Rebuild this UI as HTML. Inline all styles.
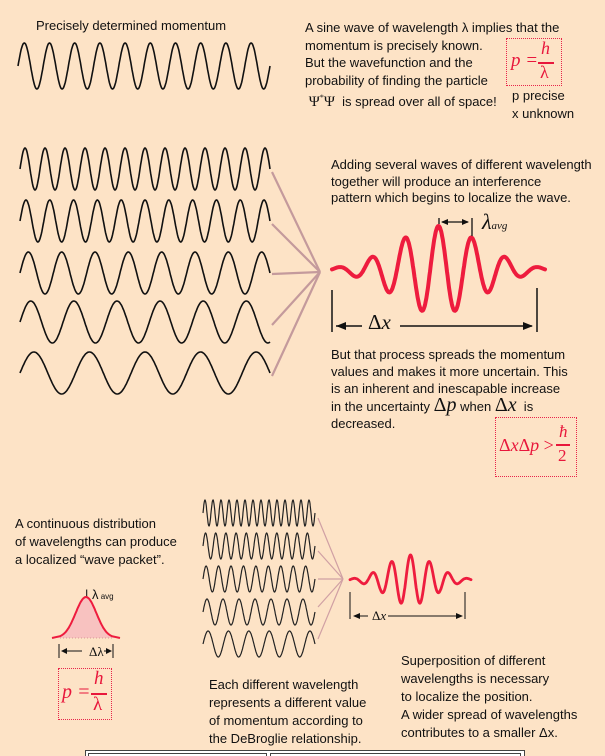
<!DOCTYPE html>
<html><head><meta charset="utf-8"><style>
body{margin:0;background:#fde3c6;}
#root{position:relative;width:605px;height:756px;overflow:hidden;background:#fde3c6;font-family:"Liberation Sans","DejaVu Sans",sans-serif;color:#111;}
.t{position:absolute;font-size:13px;line-height:17px;white-space:nowrap;}
.box{position:absolute;border:1.5px dotted #e8254a;}
.red{color:#e8173c;font-family:"Liberation Serif",serif;font-style:italic;}
svg{position:absolute;left:0;top:0;}
</style></head><body>
<div id="root">
<div class="t" style="left:36px;top:17px">Precisely determined momentum</div>
<div class="t" style="left:305px;top:19px;line-height:17.5px">A sine wave of wavelength λ implies that the<br>momentum is precisely known.<br>But the wavefunction and the<br>probability of finding the particle<br><span style="font-family:'Liberation Serif',serif;font-size:15px">&nbsp;Ψ<sup style="font-size:8px">*</sup>Ψ</span> &nbsp;is spread over all of space!</div>
<div class="box" style="left:506px;top:38px;width:54px;height:46px"></div>
<div class="t red" style="left:511px;top:52px;font-size:19px">p =</div>
<div class="t red" style="left:541px;top:40px;font-size:18px">h</div>
<div style="position:absolute;left:538px;top:62px;width:16px;height:1.5px;background:#e8173c"></div>
<div class="t red" style="left:540px;top:64px;font-size:18px;font-style:normal">λ</div>
<div class="t" style="left:512px;top:87px;line-height:17.5px">p precise<br>x unknown</div>

<div class="t" style="left:331px;top:157px;line-height:16.5px">Adding several waves of different wavelength<br>together will produce an interference<br>pattern which begins to localize the wave.</div>
<div class="t" style="left:482px;top:213px;font-family:'Liberation Serif',serif;font-style:italic;font-size:22px">λ<span style="font-size:11px">avg</span></div>
<div class="t" style="left:368px;top:314px;font-family:'Liberation Serif',serif;font-size:21px">Δ<i>x</i></div>
<div class="t" style="left:331px;top:346px;line-height:17px">But that process spreads the momentum<br>values and makes it more uncertain. This<br>is an inherent and inescapable increase<br>in the uncertainty <span style="font-family:'Liberation Serif',serif;font-size:20px">Δ<i>p</i></span> when <span style="font-family:'Liberation Serif',serif;font-size:20px">Δ<i>x</i></span> &nbsp;is<br>decreased.</div>
<div class="box" style="left:495px;top:417px;width:80px;height:58px"></div>
<div class="t red" style="left:499px;top:437px;font-size:18px;font-style:normal">Δ<i>x</i>Δ<i>p</i> &gt;</div>
<div class="t red" style="left:559px;top:423px;font-size:17px">ħ</div>
<div style="position:absolute;left:556px;top:444px;width:14px;height:1.5px;background:#e8173c"></div>
<div class="t red" style="left:558px;top:447px;font-size:17px;font-style:normal">2</div>

<div class="t" style="left:15px;top:515px;line-height:18px">A continuous distribution<br>of wavelengths can produce<br>a localized “wave packet”.</div>
<div class="t" style="left:85px;top:586px;font-size:13px">| λ<span style="font-size:8px"> avg</span></div>
<div class="t" style="left:89px;top:643px;font-family:'Liberation Serif',serif;font-size:13px">Δλ</div>
<div class="box" style="left:58px;top:668px;width:52px;height:50px"></div>
<div class="t red" style="left:62px;top:684px;font-size:20px">p =</div>
<div class="t red" style="left:94px;top:670px;font-size:19px">h</div>
<div style="position:absolute;left:91px;top:693px;width:16px;height:1.5px;background:#e8173c"></div>
<div class="t red" style="left:93px;top:696px;font-size:19px;font-style:normal">λ</div>
<div class="t" style="left:209px;top:676px;line-height:18px">Each different wavelength<br>represents a different value<br>of momentum according to<br>the DeBroglie relationship.</div>
<div class="t" style="left:401px;top:652px;line-height:18px">Superposition of different<br>wavelengths is necessary<br>to localize the position.<br>A wider spread of wavelengths<br>contributes to a smaller Δx.</div>
<div class="t" style="left:372px;top:607px;font-family:'Liberation Serif',serif;font-size:13px">Δ<i>x</i></div>

<svg id="svg" width="605" height="756"></svg>
</div>
<script>
const topCycles=[10];
const midCycles=[12.5,10.5,7.5,5.8,4.5];
const botCycles=[14,11,9,7,5.5];
const packetPeaks=[ -3,-2,-1,0,1,2,3];
const NS='http://www.w3.org/2000/svg';
const svg=document.getElementById('svg');
function el(t,a){const e=document.createElementNS(NS,t);for(const k in a)e.setAttribute(k,a[k]);svg.appendChild(e);return e;}
function wave(x0,x1,cy,amp,cyc,col,w){let d='';for(let i=0;i<=400;i++){const x=x0+(x1-x0)*i/400;const y=cy-amp*Math.sin(2*Math.PI*cyc*i/400);d+=(i?'L':'M')+x.toFixed(1)+' '+y.toFixed(1);}
const p=el('path',{d:d,fill:'none',stroke:col,'stroke-width':w});return p;}
function packet(x0,x1,cy,amp,cyc,sig,w){let d='';for(let i=0;i<=400;i++){const u=i/400-0.5;const x=x0+(x1-x0)*i/400;const env=Math.exp(-(u*u)/(2*sig*sig));const y=cy+amp*env*Math.sin(2*Math.PI*cyc*u+Math.PI/2)*-1;d+=(i?'L':'M')+x.toFixed(1)+' '+y.toFixed(1);}
return el('path',{d:d,fill:'none',stroke:'#ee1c3e','stroke-width':w,'stroke-linecap':'round'});}
let p=wave(18,270,66,23,topCycles[0],'#111',1.6);
midCycles.forEach((c,i)=>{const cy=[169,221,273,322,373][i];const q=wave(20,270,cy,21,c,'#111',1.6);
const l=el('line',{x1:272,y1:cy+3-(i==2?2:0),x2:320,y2:272,stroke:'#c49a9c','stroke-width':2.2});});
let pk=packet(332,545,270,44,packetPeaks.length-0.6,0.2,4);
el('line',{x1:332,y1:290,x2:332,y2:332,stroke:'#111','stroke-width':1.5});
el('line',{x1:537,y1:288,x2:537,y2:332,stroke:'#111','stroke-width':1.5});
el('line',{x1:336,y1:326,x2:362,y2:326,stroke:'#111','stroke-width':1.5});
el('path',{d:'M336 326 L346 322 L346 330Z',fill:'#111'});
el('line',{x1:400,y1:326,x2:532,y2:326,stroke:'#111','stroke-width':1.5});
el('path',{d:'M533 326 L523 322 L523 330Z',fill:'#111'});
el('line',{x1:439,y1:218,x2:439,y2:224,stroke:'#111','stroke-width':1.3});
el('line',{x1:472,y1:218,x2:472,y2:236,stroke:'#111','stroke-width':1.3});
el('line',{x1:442,y1:222,x2:468,y2:222,stroke:'#111','stroke-width':1.3});
el('path',{d:'M441 222 L448 219 L448 225Z M469 222 L462 219 L462 225Z',fill:'#111'});
botCycles.forEach((c,i)=>{const cy=[513,546,579,612,644][i];const q=wave(203,315,cy,13,c,'#222',1.2);
const l=el('line',{x1:318,y1:cy+(i<2?5:i==2?0:-5),x2:343,y2:579,stroke:'#d0a0a4','stroke-width':1.2});});
let pk2=packet(350,471,580,25,packetPeaks.length-0.6,0.2,2.8);
el('line',{x1:350,y1:592,x2:350,y2:619,stroke:'#111','stroke-width':1});
el('line',{x1:465,y1:592,x2:465,y2:619,stroke:'#111','stroke-width':1});
el('line',{x1:354,y1:616,x2:368,y2:616,stroke:'#111','stroke-width':1});
el('line',{x1:388,y1:616,x2:462,y2:616,stroke:'#111','stroke-width':1});
el('path',{d:'M353 616 L360 613 L360 619Z M463 616 L456 613 L456 619Z',fill:'#111'});
let gd='M52 638 ';for(let i=0;i<=60;i++){const x=60+52*i/60;const u=(i/60-0.5)/0.2;const y=638-41*Math.exp(-u*u/2);gd+='L'+x.toFixed(1)+' '+y.toFixed(1)+' ';}
el('path',{d:gd+'L120 638Z',fill:'#f8c2c0'});
const g=el('path',{d:gd+'L120 638',fill:'none',stroke:'#ee1c3e','stroke-width':2});
el('line',{x1:60,y1:638,x2:112,y2:638,stroke:'#c88','stroke-width':0.8,'stroke-dasharray':'1 2'});
el('line',{x1:59,y1:644,x2:59,y2:658,stroke:'#111','stroke-width':1});
el('line',{x1:113,y1:644,x2:113,y2:658,stroke:'#111','stroke-width':1});
el('line',{x1:62,y1:651,x2:82,y2:651,stroke:'#111','stroke-width':1});
el('line',{x1:104,y1:651,x2:111,y2:651,stroke:'#111','stroke-width':1});
el('path',{d:'M61 651 L67 648 L67 654Z M112 651 L106 648 L106 654Z',fill:'#111'});
el('rect',{x:85.5,y:750.5,width:439,height:10,fill:'#fff',stroke:'#444','stroke-width':1});
el('rect',{x:88.5,y:753.5,width:178,height:10,fill:'none',stroke:'#444','stroke-width':1});
el('rect',{x:270.5,y:753.5,width:250,height:10,fill:'none',stroke:'#444','stroke-width':1});
</script>
</body></html>
